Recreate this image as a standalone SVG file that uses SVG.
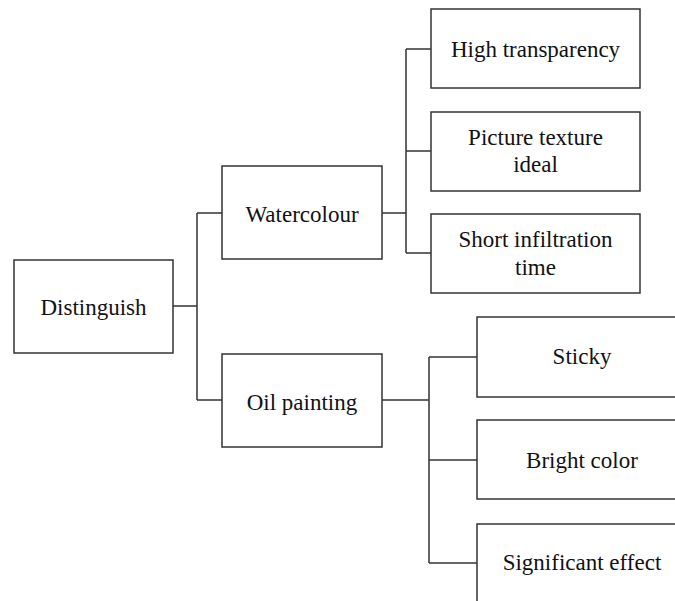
<svg xmlns="http://www.w3.org/2000/svg" width="675" height="601" viewBox="0 0 675 601">
<style>
.box{fill:#fff;stroke:#333;stroke-width:1.5}
.ln{fill:none;stroke:#333;stroke-width:1.5}
text{font-family:"Liberation Serif","Times New Roman",serif;font-size:23px;fill:#111;text-anchor:middle}
</style>
<rect width="675" height="601" fill="#fff"/>
<g id="connectors">
<path class="ln" d="M173,306 H197 M197,213 V400 M197,213 H222 M197,400 H222"/>
<path class="ln" d="M382,213 H406 M406,49 V253 M406,49 H431 M406,151 H431 M406,253 H431"/>
<path class="ln" d="M382,400 H429 M429,357 V563 M429,357 H477 M429,460 H477 M429,563 H477"/>
</g>
<g id="n-distinguish"><rect class="box" x="14" y="260" width="159" height="93"/><text x="93.5" y="315">Distinguish</text></g>
<g id="n-watercolour"><rect class="box" x="222" y="166" width="160" height="93"/><text x="302" y="222">Watercolour</text></g>
<g id="n-oil"><rect class="box" x="222" y="354" width="160" height="93"/><text x="302" y="410">Oil painting</text></g>
<g id="n-high"><rect class="box" x="431" y="9" width="209" height="79"/><text x="535.5" y="57">High transparency</text></g>
<g id="n-picture"><rect class="box" x="431" y="112" width="209" height="79"/><text x="535.5" y="145">Picture texture</text><text x="535.5" y="172">ideal</text></g>
<g id="n-short"><rect class="box" x="431" y="214" width="209" height="79"/><text x="535.5" y="247">Short infiltration</text><text x="535.5" y="275">time</text></g>
<g id="n-sticky"><rect class="box" x="477" y="317" width="210" height="80"/><text x="582" y="364">Sticky</text></g>
<g id="n-bright"><rect class="box" x="477" y="420" width="210" height="79"/><text x="582" y="468">Bright color</text></g>
<g id="n-significant"><rect class="box" x="477" y="524" width="210" height="90"/><text x="582" y="570">Significant effect</text></g>
</svg>
